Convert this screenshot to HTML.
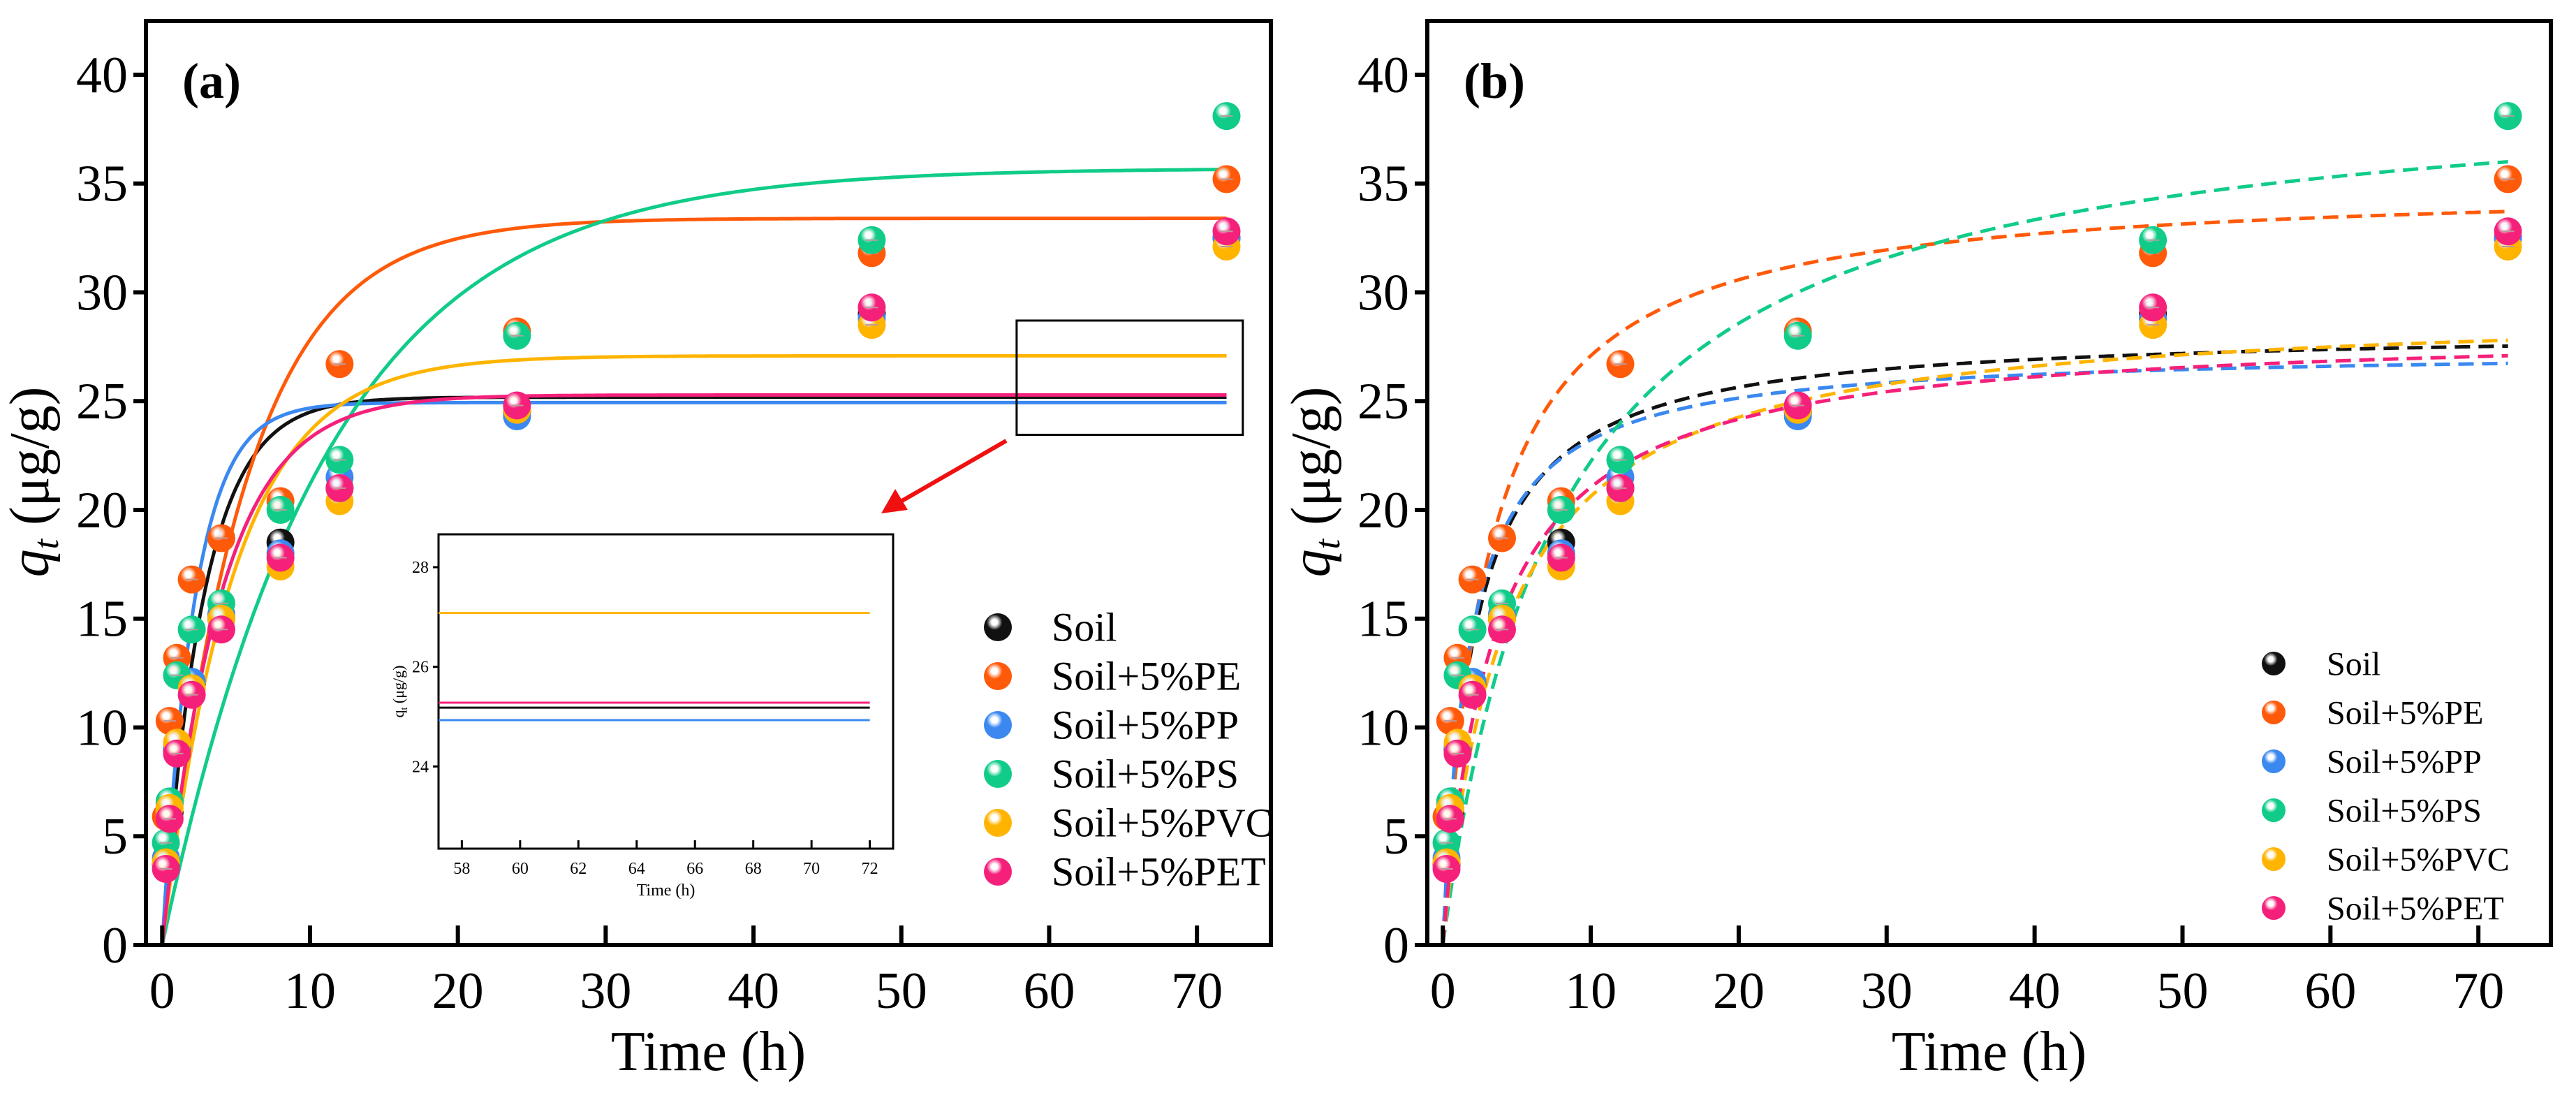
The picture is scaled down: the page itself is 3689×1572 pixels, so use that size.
<!DOCTYPE html>
<html><head><meta charset="utf-8"><style>
html,body{margin:0;padding:0;background:#fff}
svg, svg text, svg tspan{font-family:"Liberation Serif","Times New Roman",serif !important}
</style></head><body>
<svg id="c" width="3689" height="1567" viewBox="0 0 3689 1567" xmlns="http://www.w3.org/2000/svg" font-family="Liberation Serif, serif">
<defs id="defs"></defs>
</svg>
<script>
const seriesNames = ["Soil","Soil+5%PE","Soil+5%PP","Soil+5%PS","Soil+5%PVC","Soil+5%PET"];
const colors = ["#111111","#ff5a0a","#3a88f0","#10cc88","#ffb400","#f5207a"];
const times = [0.25,0.5,1,2,4,8,12,24,48,72];
const qSoil = [3.7,6.1,9.0,12.0,15.0,18.5,21.0,24.5,29.0,32.5];
const qPE   = [5.9,10.3,13.2,16.8,18.7,20.4,26.7,28.2,31.8,35.2];
const qPP   = [4.0,6.5,9.1,12.1,15.2,18.0,21.5,24.3,28.8,32.5];
const qPS   = [4.7,6.6,12.4,14.5,15.7,20.0,22.3,28.0,32.4,38.1];
const qPVC  = [3.8,6.3,9.3,11.8,15.0,17.4,20.4,24.6,28.5,32.1];
const qPET  = [3.5,5.8,8.8,11.5,14.5,17.8,21.0,24.8,29.3,32.8];
const pfoQe = [25.18,33.4,24.93,35.7,27.08,25.28];
const pfoK  = [0.36,0.179,0.46,0.09,0.206,0.255];
const psoQe = [28.33,35.1,27.4,40.0,29.45,28.4];
const psoA  = [2.1,2.96,1.8,8.0,4.28,3.5];
const xTicks = [0,10,20,30,40,50,60,70];
const yTicks = [0,5,10,15,20,25,30,35,40];
const insetXTicks = [58,60,62,64,66,68,70,72];
const insetYTicks = [24,26,28];
const allQ = [qSoil,qPE,qPP,qPS,qPVC,qPET];

const NS="http://www.w3.org/2000/svg";
const FF="Liberation Serif, serif";
const svg=document.getElementById('c');
const defs=document.getElementById('defs');
function mk(tag,attrs,parent){const e=document.createElementNS(NS,tag);for(const k in attrs)e.setAttribute(k,attrs[k]);if(tag==='text')e.setAttribute('font-family',FF);(parent||svg).appendChild(e);return e;}

colors.forEach((c,i)=>{
  const g=mk('radialGradient',{id:'g'+i,cx:'0.38',cy:'0.32',r:'0.7'},defs);
  mk('stop',{offset:'0',"stop-color":'#ffffff'},g);
  mk('stop',{offset:'0.15',"stop-color":'#ffffff',"stop-opacity":'0.9'},g);
  mk('stop',{offset:'0.4',"stop-color":c},g);
  mk('stop',{offset:'1',"stop-color":c},g);
});

function panel(cfg){
  const x=v=>cfg.x0+(v-cfg.xmin)/(cfg.xmax-cfg.xmin)*(cfg.x1-cfg.x0);
  const y=v=>cfg.y1-(v-cfg.ymin)/(cfg.ymax-cfg.ymin)*(cfg.y1-cfg.y0);
  const g=mk('g',{});
  
  
  for(let i=0;i<6;i++){
    let d='';
    for(let t=0;t<=72.001;t+=0.2){
      const q=cfg.model(i,t);
      d+=(d?'L':'M')+x(t).toFixed(1)+','+y(q).toFixed(1);
    }
    const p=mk('path',{d:d,fill:'none',stroke:colors[i],"stroke-width":5,"stroke-dasharray":cfg.dash||'none'},g);
    
    
  }
  for(let i=0;i<6;i++){
    times.forEach((t,j)=>{
      const c=mk('circle',{cx:x(t),cy:y(allQ[i][j]),r:20,fill:'url(#g'+i+')'},g);
      
      
      mk('line',{x1:x(t)-9,x2:x(t)+9,y1:y(allQ[i][j]),y2:y(allQ[i][j]),stroke:'#b99',"stroke-width":2},g);
    });
  }
  const f=mk('rect',{x:cfg.x0,y:cfg.y0,width:cfg.x1-cfg.x0,height:cfg.y1-cfg.y0,fill:'none',stroke:'#000',"stroke-width":6},g);
  
  
  xTicks.forEach(v=>{
    mk('line',{x1:x(v),x2:x(v),y1:cfg.y1,y2:cfg.y1-28,stroke:'#000',"stroke-width":6},g);
    const t=mk('text',{x:x(v),y:cfg.y1+90,"font-size":74,"text-anchor":'middle'},g);
    t.textContent=v;
    
    
  });
  yTicks.forEach(v=>{
    mk('line',{x1:cfg.x0,x2:cfg.x0-18,y1:y(v),y2:y(v),stroke:'#000',"stroke-width":6},g);
    const t=mk('text',{x:cfg.x0-26,y:y(v)+25,"font-size":74,"text-anchor":'end'},g);
    t.textContent=v;
    
    
  });
  const xt=mk('text',{x:(cfg.x0+cfg.x1)/2,y:1532,"font-size":80,"text-anchor":'middle'},g);
  xt.textContent='Time (h)';
  
  
  const yt=mk('text',{x:0,y:0,"font-size":80,"text-anchor":'middle',transform:`translate(${cfg.x0-140},690) rotate(-90)`},g);
  yt.innerHTML='<tspan font-style="italic">q</tspan><tspan font-style="italic" font-size="52" dy="14">t</tspan><tspan dy="-14"> (μg/g)</tspan>';
  
  
  const pl=mk('text',{x:cfg.x0+52,y:140,"font-size":72,"font-weight":'bold'},g);
  pl.textContent=cfg.label;
  
  
  for(let i=0;i<6;i++){
    const ly=cfg.legY+i*70;
    const c=mk('circle',{cx:cfg.legX,cy:ly,r:cfg.legR,fill:'url(#g'+i+')'},g);
    
    
    const t=mk('text',{x:cfg.legTX,y:ly+cfg.legFS*0.34,"font-size":cfg.legFS},g);
    t.textContent=seriesNames[i];
    
    
  }
  return {x,y,g};
}

const A=panel({name:'panel-a',label:'(a)',x0:209,x1:1820,y0:30,y1:1353,xmin:-1.1,xmax:75,ymin:0,ymax:42.47,
  model:(i,t)=>pfoQe[i]*(1-Math.exp(-pfoK[i]*t)),legX:1429,legTX:1506,legY:898,legR:20,legFS:58});
const B=panel({name:'panel-b',label:'(b)',x0:2044,x1:3653,y0:30,y1:1353,xmin:-1.05,xmax:74.9,ymin:0,ymax:42.47,dash:'22,12',
  model:(i,t)=>psoQe[i]*t/(psoA[i]+t),legX:3256,legTX:3332,legY:950,legR:17,legFS:48});

const zb=mk('rect',{x:A.x(57.8),y:A.y(28.7),width:A.x(73.1)-A.x(57.8),height:A.y(23.45)-A.y(28.7),fill:'none',stroke:'#000',"stroke-width":3});


const ar=mk('line',{x1:1441,y1:631,x2:1290,y2:718,stroke:'#f01010',"stroke-width":6});


mk('polygon',{points:'1262,735 1282,700 1300,730',fill:'#f01010'});

const ix0=628,ix1=1279,iy0=765,iy1=1215;
const ixf=v=>ix0+(v-57.2)/(72.8-57.2)*(ix1-ix0);
const iyf=v=>iy1-(v-22.35)/(28.66-22.35)*(iy1-iy0);
const ig=mk('g',{});


mk('rect',{x:ix0,y:iy0,width:ix1-ix0,height:iy1-iy0,fill:'#fff',stroke:'#000',"stroke-width":3},ig);
for(let i=0;i<6;i++){
  const q=pfoQe[i];
  if(q>28.66||q<22.35)continue;
  const l=mk('line',{x1:ixf(57.2),x2:ixf(72),y1:iyf(q),y2:iyf(q),stroke:colors[i],"stroke-width":3},ig);
  
  
}
insetXTicks.forEach(v=>{
  mk('line',{x1:ixf(v),x2:ixf(v),y1:iy1,y2:iy1-12,stroke:'#000',"stroke-width":3},ig);
  const t=mk('text',{x:ixf(v),y:iy1+36,"font-size":24,"text-anchor":'middle'},ig);
  t.textContent=v;
  
  
});
insetYTicks.forEach(v=>{
  mk('line',{x1:ix0,x2:ix0-8,y1:iyf(v),y2:iyf(v),stroke:'#000',"stroke-width":3},ig);
  const t=mk('text',{x:ix0-14,y:iyf(v)+8,"font-size":24,"text-anchor":'end'},ig);
  t.textContent=v;
  
  
});
const ixt=mk('text',{x:(ix0+ix1)/2,y:1282,"font-size":24,"text-anchor":'middle'},ig);
ixt.textContent='Time (h)';


const iyt=mk('text',{x:0,y:0,"font-size":22,"text-anchor":'middle',transform:`translate(${ix0-50},990) rotate(-90)`},ig);
iyt.innerHTML='q<tspan font-size="14" dy="5">t</tspan><tspan dy="-5"> (μg/g)</tspan>';


</script>
</body></html>
